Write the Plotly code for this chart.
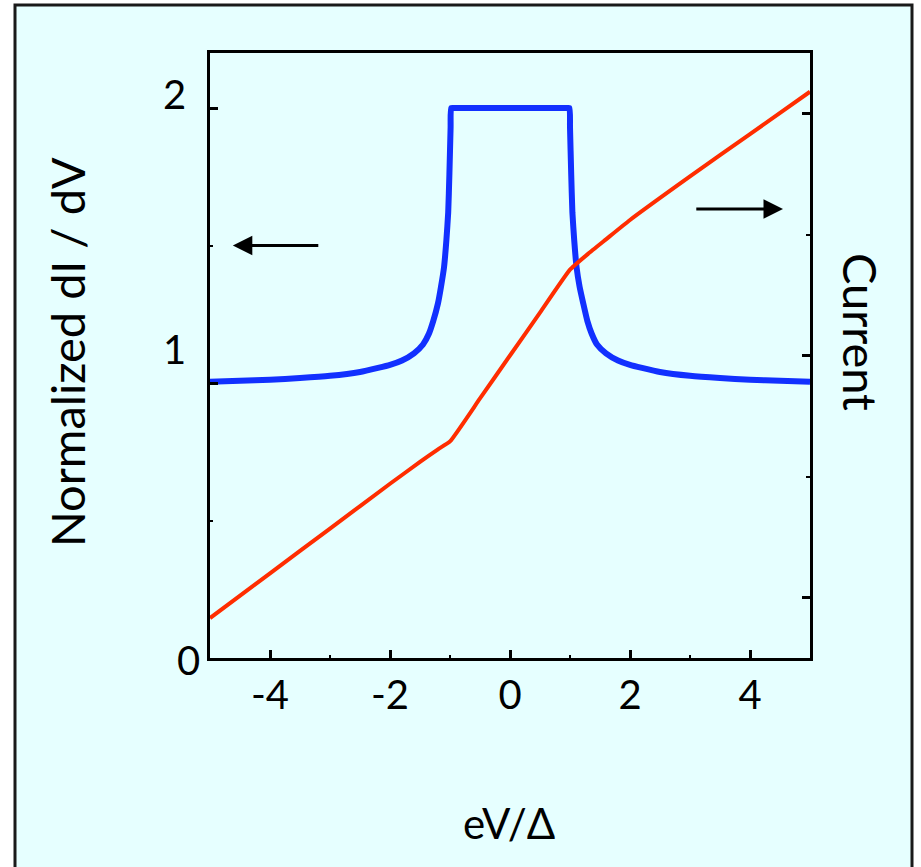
import plotly.graph_objects as go

# ---- data ----
x_didv = [-5, -4.5, -4, -3.5, -3, -2.5, -2.2, -2, -1.8, -1.6, -1.45, -1.35, -1.28, -1.2,
          -1.15, -1.1, -1.06, -1.03, -1.01, -0.99, -0.98, -0.93, -0.5, 0, 0.5, 0.94, 0.99,
          1.0, 1.02, 1.04, 1.07, 1.11, 1.16, 1.22, 1.29, 1.36, 1.45, 1.6, 1.8, 2, 2.2, 2.5,
          3, 3.5, 4, 4.5, 5]
didv = [1.005, 1.008, 1.012, 1.018, 1.026, 1.04, 1.055, 1.066, 1.082, 1.108, 1.14, 1.18,
        1.225, 1.29, 1.35, 1.42, 1.52, 1.62, 1.76, 1.93, 2.0, 2.0, 2.0, 2.0, 2.0, 2.0, 2.0,
        1.93, 1.76, 1.62, 1.52, 1.42, 1.35, 1.29, 1.225, 1.18, 1.14, 1.108, 1.082, 1.066,
        1.055, 1.04, 1.026, 1.018, 1.012, 1.008, 1.005]

x_cur = [-5, -4, -3, -2, -1.5, -1.2, -1.0, -0.5, 0, 0.5, 1.0, 1.3, 1.6, 2, 3, 4, 5]
current = [0.83, 1.20, 1.57, 1.94, 2.12, 2.225, 2.29, 2.645, 3.0, 3.355, 3.71, 3.84,
           3.96, 4.12, 4.48, 4.83, 5.18]

x_tickvals = [-4, -2, 0, 2, 4]
x_ticktext = ["-4", "-2", "0", "2", "4"]
y_tickvals = [0, 1, 2]
y_ticktext = ["0", "1", "2"]

BLUE = "#1230FF"
RED = "#FF2D00"
BG = "#E6FFFF"
FONT = "Lato"

fig = go.Figure()
fig.add_trace(go.Scatter(x=x_didv, y=didv, mode="lines",
                         line=dict(color=BLUE, width=6, shape="spline", smoothing=0.5),
                         yaxis="y", showlegend=False))
fig.add_trace(go.Scatter(x=x_cur, y=current, mode="lines",
                         line=dict(color=RED, width=4, shape="spline", smoothing=0.4),
                         yaxis="y2", showlegend=False))

axis_common = dict(showgrid=False, zeroline=False, showline=True, linecolor="black",
                   linewidth=3, ticks="inside", tickcolor="black", ticklen=8, tickwidth=3)

fig.update_layout(
    width=921, height=867,
    margin=dict(l=210, r=111, t=53, b=209),
    paper_bgcolor="white",
    plot_bgcolor="rgba(0,0,0,0)",
    font=dict(family=FONT, color="black", size=40),
    xaxis=dict(range=[-5, 5], tickvals=x_tickvals, ticktext=x_ticktext, mirror=True,
               minor=dict(ticks="inside", ticklen=3, tickwidth=2, tickcolor="black",
                          tickvals=[-3, -1, 1, 3]),
               tickfont=dict(size=40, family=FONT), **axis_common),
    yaxis=dict(range=[0, 2.2], tickvals=y_tickvals, showticklabels=False,
               minor=dict(ticks="inside", ticklen=3, tickwidth=2, tickcolor="black",
                          tickvals=[0.5, 1.5]),
               **axis_common),
    yaxis2=dict(range=[0.5, 5.5], overlaying="y", side="right", tickvals=[1, 3, 5],
                showticklabels=False,
                minor=dict(ticks="inside", ticklen=4, tickwidth=2, tickcolor="black",
                           tickvals=[2, 4]),
                **axis_common),
)

# background panel with border
fig.add_shape(type="rect", xref="paper", yref="paper", x0=-0.325, x1=1.17, y0=-0.4, y1=1.0793,
              fillcolor=BG, line=dict(color="#1a1a1a", width=3), layer="below")

# left-axis tick labels (placed as in the reference)
yshifts = [-2, 34, 14]
xpos = [-0.013, -0.037, -0.037]
for v, t, ys, xp in zip(y_tickvals, y_ticktext, yshifts, xpos):
    fig.add_annotation(x=xp, xref="paper", y=v, yref="y", text=t, showarrow=False,
                       xanchor="right", yanchor="middle", yshift=ys,
                       font=dict(size=40, family=FONT, color="black"))

# axis titles
fig.add_annotation(x=-0.238, y=0.506, xref="paper", yref="paper", text="Normalized dI / dV",
                   textangle=-90, showarrow=False, xanchor="center", yanchor="middle",
                   font=dict(size=47, family=FONT))
fig.add_annotation(x=1.085, y=0.539, xref="paper", yref="paper", text="Current",
                   textangle=90, showarrow=False, xanchor="center", yanchor="middle",
                   font=dict(size=47, family=FONT))
fig.add_annotation(x=0.498, y=-0.272, xref="paper", yref="paper", text="eV/Δ",
                   showarrow=False, xanchor="center", yanchor="middle",
                   font=dict(size=42, family=FONT))

# arrows
fig.add_annotation(x=-4.62, y=1.5, xref="x", yref="y", ax=-3.17, ay=1.5, axref="x", ayref="y",
                   text="", showarrow=True, arrowhead=2, arrowsize=1.3, arrowwidth=3,
                   arrowcolor="black", standoff=0)
fig.add_annotation(x=4.55, y=1.633, xref="x", yref="y", ax=3.08, ay=1.633, axref="x", ayref="y",
                   text="", showarrow=True, arrowhead=2, arrowsize=1.3, arrowwidth=3,
                   arrowcolor="black", standoff=0)

fig.write_html("out.html")
